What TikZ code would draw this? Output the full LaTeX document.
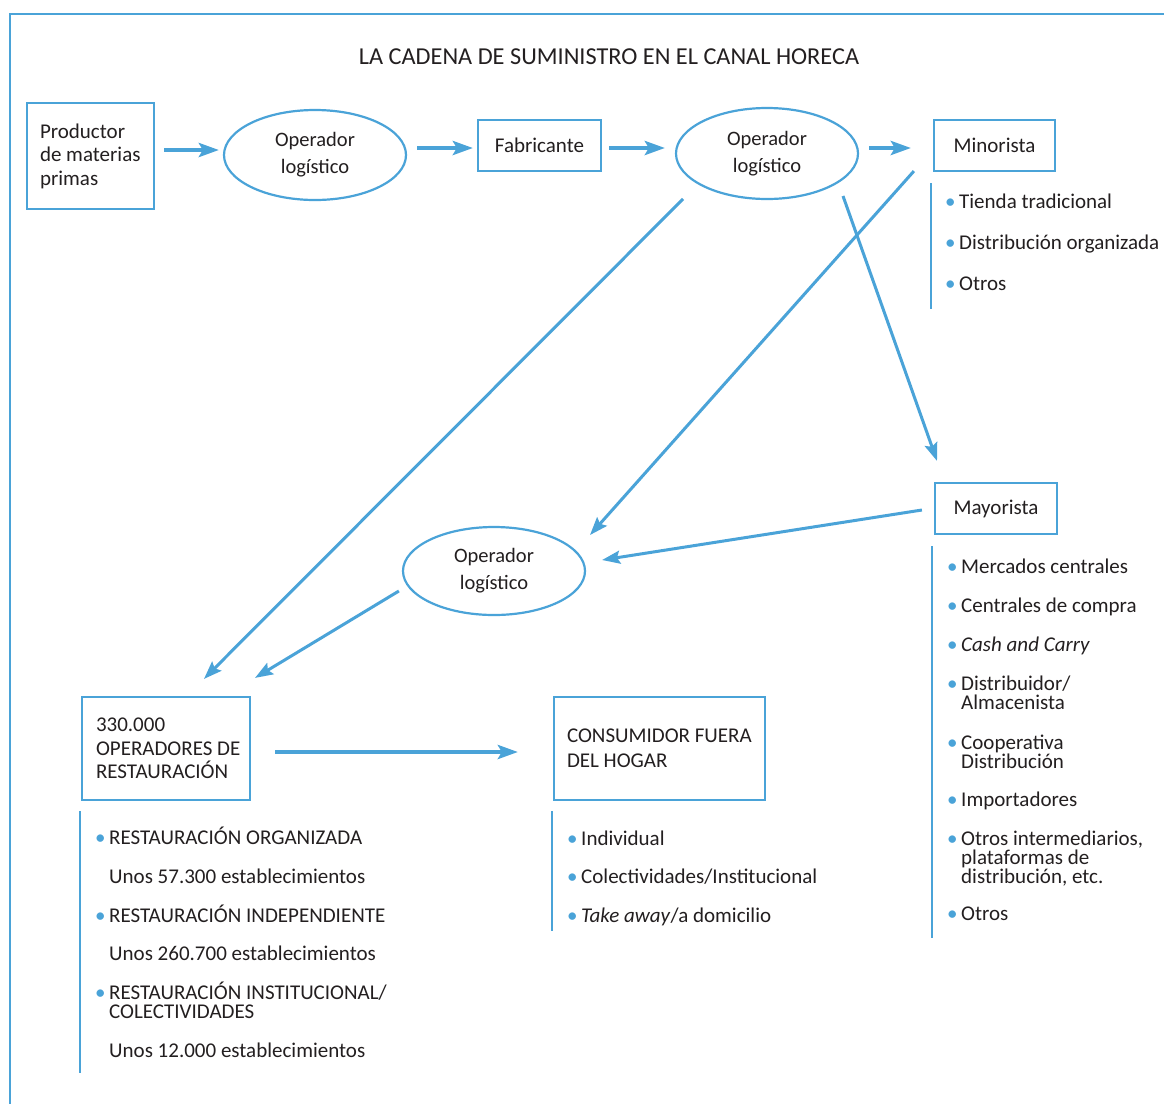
\documentclass[tikz,border=0pt]{standalone}
\usepackage{fontspec}
\usepackage{array}
\setmainfont{Carlito}
\usetikzlibrary{arrows.meta,shapes.geometric,calc}
\definecolor{hb}{RGB}{74,163,216}
\definecolor{tx}{RGB}{35,31,32}
\newcommand\bul{\makebox[14pt][l]{\textcolor{hb}{•}}}
\newcolumntype{T}{>{\setbox0=\hbox\bgroup}l<{\egroup\ht0=0pt \dp0=0pt \box0}}
\begin{document}
\begin{tikzpicture}[x=1pt,y=-1pt,
 every node/.style={text=tx, font=\fontsize{21}{23.5}\selectfont},
 box/.style={draw=hb, line width=2.2pt, inner sep=0pt},
 oval/.style={ellipse, draw=hb, line width=2.2pt, minimum width=182pt, minimum height=90pt, inner sep=0pt, align=center, font=\fontsize{20.5}{27}\selectfont},
 bigarrow/.style={draw=hb, line width=4.5pt, -{Stealth[length=20pt,width=14pt,inset=4pt]}},
 thinarrow/.style={draw=hb, line width=3pt, -{Stealth[length=18pt,width=13pt,inset=3pt]}},
 bar/.style={draw=hb, line width=2.5pt},
 lst/.style={anchor=base west, inner sep=0pt, font=\fontsize{21}{19}\selectfont}
]
\useasboundingbox (0,0) rectangle (1164,1104);
\fill[white] (0,0) rectangle (1164,1104);
% frame
\draw[hb, line width=2.5pt] (1164,14) -- (10,14) -- (10,1104);
% title
\node[font=\fontsize{24.3}{28}\selectfont] (title) at (609,57) {LA CADENA DE SUMINISTRO EN EL CANAL HORECA};
% top row
\node[box, minimum width=127pt, minimum height=106pt, text width=101pt, align=flush left] (prod) at (90.5,156) {Productor\\de materias\\primas};
\node[oval] (e1) at (315,155) {Operador\\logístico};
\node[box, minimum width=123pt, minimum height=51pt] (fab) at (539.5,145.5) {Fabricante};
\node[oval, minimum height=91pt] (e2) at (767,153.5) {Operador\\logístico};
\node[box, minimum width=121pt, minimum height=51pt] (mino) at (994.5,145.5) {Minorista};
% middle
\node[box, minimum width=122pt, minimum height=51pt] (mayo) at (996,508.5) {Mayorista};
\node[oval, minimum height=88pt] (e3) at (494,571) {Operador\\logístico};
% bottom
\node[box, minimum width=168pt, minimum height=103pt, text width=140pt, align=flush left] (rest) at (166,748.5) {330.000\\\mbox{OPERADORES DE}\\RESTAURACIÓN};
\node[box, minimum width=211pt, minimum height=103pt, text width=185pt, align=flush left, font=\fontsize{21}{25}\selectfont] (cons) at (659.5,748.5) {CONSUMIDOR FUERA\\DEL HOGAR};
% horizontal arrows
\draw[bigarrow] ($(prod.east)+(9,-6)$) -- ($(e1.west)+(-4,-5)$);
\draw[bigarrow] ($(e1.east)+(10,-7)$) -- ($(fab.west)+(-4,2.5)$);
\draw[bigarrow] ($(fab.east)+(7,2.5)$) -- ($(e2.west)+(-10,-5.5)$);
\draw[bigarrow] ($(e2.east)+(10,-5.5)$) -- ($(mino.west)+(-22,2.5)$);
\draw[bigarrow] ($(rest.east)+(24,3.5)$) -- ($(cons.west)+(-35,3.5)$);
% diagonal arrows
\draw[thinarrow] ($(e2.center)+(-84,45.5)$) -- ($(rest.north)+(38,-17)$);
\draw[thinarrow] ($(mino.south west)+(-19,-1)$) -- ($(e3.center)+(96,-36)$);
\draw[thinarrow] ($(e2.center)+(76,42.5)$) -- ($(mayo.north)+(-59,-21)$);
\draw[thinarrow] ($(mayo.west)+(-12,1.5)$) -- ($(e3.east)+(16,-11)$);
\draw[thinarrow] ($(e3.west)+(-3,20)$) -- ($(rest.north)+(89,-18)$);
% bars
\draw[bar] ($(mino.south west)+(-2,11)$) -- ($(mino.south west)+(-2,137)$);
\draw[bar] ($(mayo.south west)+(-2,11)$) -- ($(mayo.south west)+(-2,403)$);
\draw[bar] ($(rest.south west)+(-1,10)$) -- ($(rest.south west)+(-1,272)$);
\draw[bar] ($(cons.south west)+(-1,10)$) -- ($(cons.south west)+(-1,130)$);
% lists
\node[lst] (lmin) at (945,208) {\begin{tabular}[t]{@{}l@{}T@{}}
\bul & Tienda tradicional\\[22pt]
\bul & Distribución organizada\\[22pt]
\bul & Otros
\end{tabular}};
\node[lst] (lmay) at (947,573) {\begin{tabular}[t]{@{}l@{}T@{}}
\bul & Mercados centrales\\[20pt]
\bul & Centrales de compra\\[20pt]
\bul & \textit{Cash and Carry}\\[20pt]
\bul & Distribuidor/\\
 & Almacenista\\[21pt]
\bul & Cooperativa\\
 & Distribución\\[19pt]
\bul & Importadores\\[20pt]
\bul & Otros intermediarios,\\
 & plataformas de\\
 & distribución, etc.\\[18pt]
\bul & Otros
\end{tabular}};
\node[lst] (lrest) at (95,844) {\begin{tabular}[t]{@{}l@{}T@{}}
\bul & RESTAURACIÓN ORGANIZADA\\[20pt]
 & Unos 57.300 establecimientos\\[20pt]
\bul & RESTAURACIÓN INDEPENDIENTE\\[19pt]
 & Unos 260.700 establecimientos\\[20pt]
\bul & RESTAURACIÓN INSTITUCIONAL/\\
 & COLECTIVIDADES\\[20pt]
 & Unos 12.000 establecimientos
\end{tabular}};
\node[lst] (lcons) at (567,845) {\begin{tabular}[t]{@{}l@{}T@{}}
\bul & Individual\\[19pt]
\bul & Colectividades/Institucional\\[20pt]
\bul & \textit{Take away}/a domicilio
\end{tabular}};
\end{tikzpicture}
\end{document}
